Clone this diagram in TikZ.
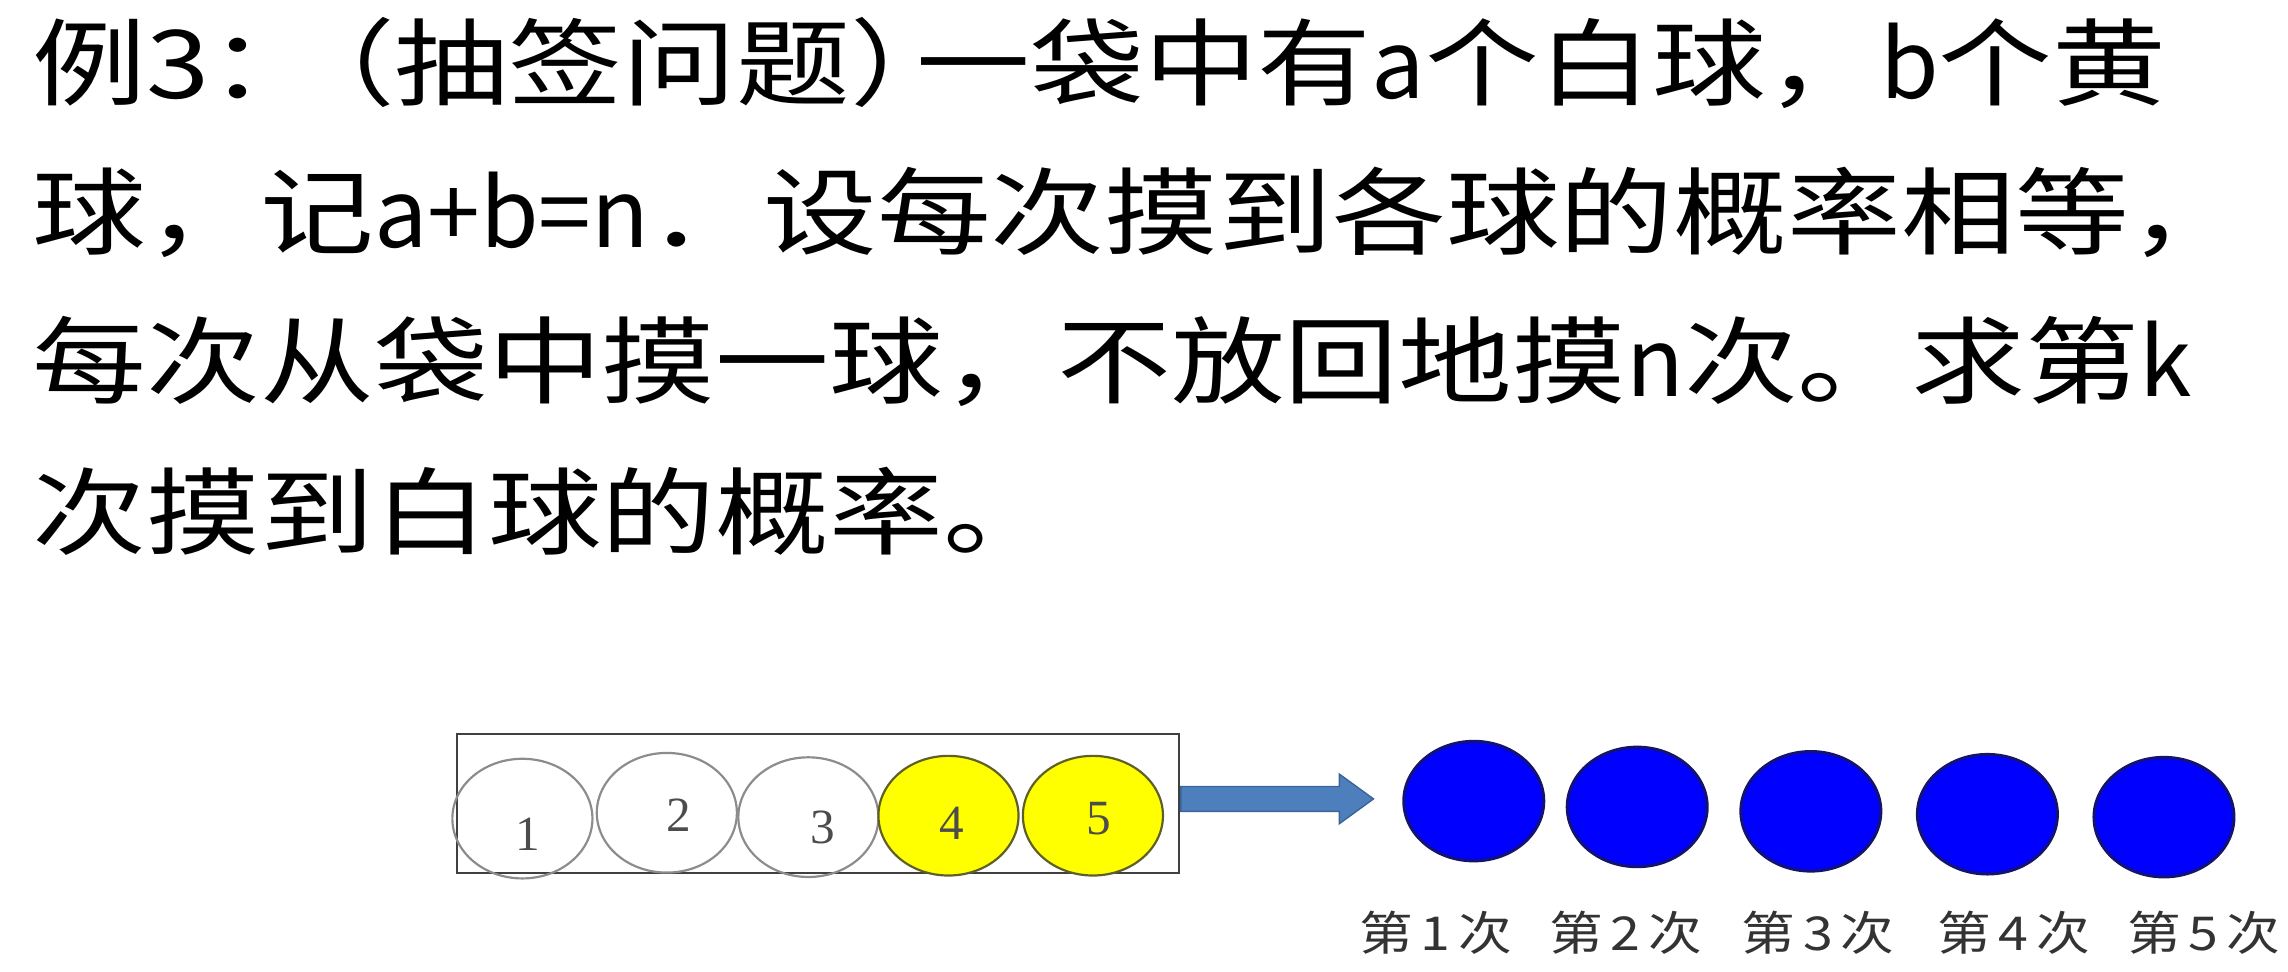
\documentclass[tikz,border=0pt]{standalone}
\usepackage{fontspec}
\newfontfamily\cjktext[FakeStretch=1.2]{Noto Sans CJK SC}
\newfontfamily\cjkplain{Noto Sans CJK SC}
\newfontfamily\cjklabel[FakeStretch=1.15]{Noto Sans CJK SC}
\newfontfamily\numfont{Liberation Serif}
\newcommand{\plainlat}[1]{{\cjkplain #1}}
\usetikzlibrary{positioning}
\usetikzlibrary{shapes.geometric}
\usetikzlibrary{shapes.arrows}
\definecolor{ballyellow}{RGB}{255,255,0}
\definecolor{yellowedge}{RGB}{95,95,40}
\definecolor{ballblue}{RGB}{0,0,255}
\definecolor{blueedge}{RGB}{20,20,110}
\definecolor{arrowblue}{RGB}{76,127,188}
\definecolor{arrowedge}{RGB}{60,100,155}
\tikzstyle{every picture}=[x=0.4pt, y=-0.4pt]
\tikzstyle{textline}=[anchor=west, inner sep=0pt, font=\cjktext\fontsize{26}{30}\selectfont]
\tikzstyle{tube}=[draw=black!75, line width=0.6pt, rectangle, inner sep=0pt,
                  minimum width=198pt, minimum height=38pt]
\tikzstyle{ball}=[ellipse, inner sep=0pt, minimum width=38.4pt, minimum height=32.8pt]
\tikzstyle{whiteball}=[ball, draw=black!45, line width=0.6pt]
\tikzstyle{yellowball}=[ball, draw=yellowedge, fill=ballyellow, line width=0.6pt]
\tikzstyle{blueball}=[ball, draw=blueedge, fill=ballblue, line width=0.8pt]
\tikzstyle{ballnum}=[inner sep=0pt, font=\numfont\fontsize{13.5}{15}\selectfont, text=black!70]
\tikzstyle{drawlabel}=[inner sep=0pt, font=\cjklabel\fontsize{12.8}{14}\selectfont, text=black!80]
\tikzstyle{push}=[single arrow, draw=arrowedge, fill=arrowblue, line width=0.4pt,
                  inner xsep=0pt, inner ysep=3.2pt, minimum height=52.8pt,
                  single arrow head extend=3.4pt, single arrow tip angle=72, anchor=tail]

\begin{document}
\begin{tikzpicture}
\useasboundingbox (0,0) rectangle (1568,665.5);

\node[textline] (Line1) at (22,43) {例3：\kern-.45em（抽签问题）\kern-.5em一袋中有\plainlat{a}个白球，\plainlat{b}个黄};
\node[textline] (Line2) at ([yshift=-41pt] Line1.west) {球，记\plainlat{a+b=n}．设每次摸到各球的概率相等，};
\node[textline] (Line3) at ([yshift=-41pt] Line2.west) {每次从袋中摸一球，不放回地摸\plainlat{n}次。求第\plainlat{k}};
\node[textline] (Line4) at ([yshift=-41pt] Line3.west) {次摸到白球的概率。};

\node[tube] (Tube) at (560.5,550.5) {};

\node[whiteball] (Ball1) at (358,561) {};
\node[whiteball] (Ball2) at (457,557) {};
\node[whiteball] (Ball3) at (554,560) {};
\node[yellowball] (Ball4) at (650,559) {};
\node[yellowball] (Ball5) at (749,559) {};

\node[ballnum] (Num1) at ([shift={(4,11)}] Ball1.center) {1};
\node[ballnum] (Num2) at ([shift={(8,2)}] Ball2.center) {2};
\node[ballnum] (Num3) at ([shift={(10,7)}] Ball3.center) {3};
\node[ballnum] (Num4) at ([shift={(2,5)}] Ball4.center) {4};
\node[ballnum] (Num5) at ([shift={(4,2)}] Ball5.center) {5};

\node[push] (Push) at ([yshift=1.2pt] Tube.east) {};

\node[blueball] (Draw1) at (1010,549) {};
\node[blueball] (Draw2) at (1122,553) {};
\node[blueball] (Draw3) at (1241,556) {};
\node[blueball] (Draw4) at (1362,558) {};
\node[blueball] (Draw5) at (1483,560) {};

\node[drawlabel] (Label1) at (984,639) {第\,1\,次};
\node[drawlabel] (Label2) at (1114,639) {第\,2\,次};
\node[drawlabel] (Label3) at (1246,639) {第\,3\,次};
\node[drawlabel] (Label4) at (1380,639) {第\,4\,次};
\node[drawlabel] (Label5) at (1510,639) {第\,5\,次};

\end{tikzpicture}
\end{document}
